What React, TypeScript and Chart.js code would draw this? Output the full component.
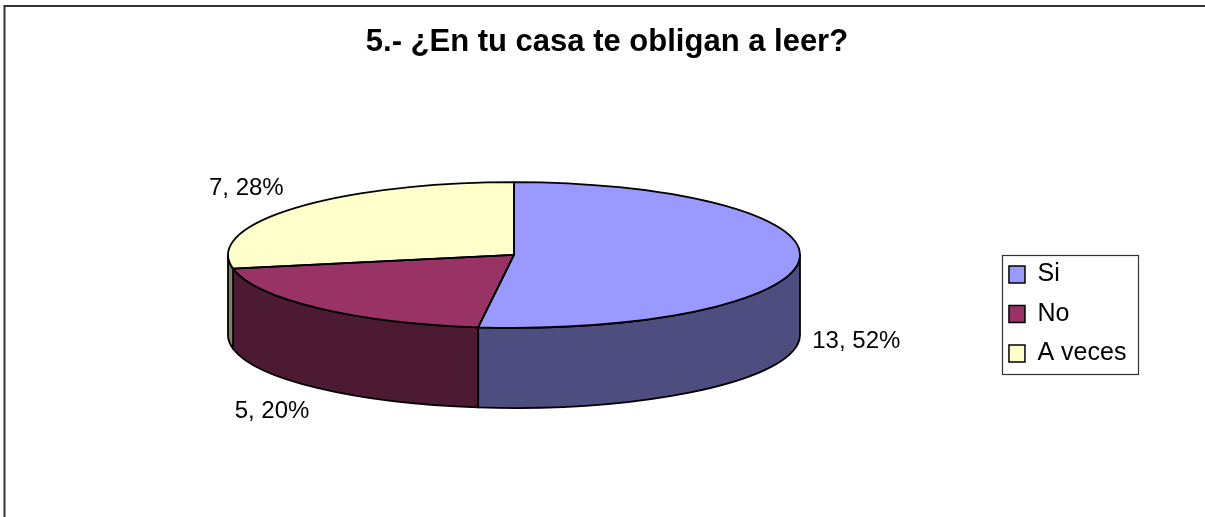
import React, { useEffect, useRef } from 'react';
import { Chart, registerables, layouts } from 'chart.js';

Chart.register(...registerables);

// ---- data ----
const TITLE = '5.- ¿En tu casa te obligan a leer?';
const CATEGORIES = ['Si', 'No', 'A veces'];
const VALUES = [13, 5, 7];
const TOP_COLORS = ['#9999FF', '#993366', '#FFFFCC'];

// ---- style constants ----
const FONT = '"Liberation Sans", Arial, Helvetica, sans-serif';
const TILT = 0.255; // vertical squash of the pie disc
const DEPTH = 0.28; // thickness of the disc relative to its radius
const PIE_RADIUS = 286;
const SPACER_WIDTH = 44;
const LABEL_FX = 1.045;
const LABEL_FY = 1.43;
const EDGE_WIDTH = 1.8;

function darken(hex: string, f: number) {
  const n = parseInt(hex.slice(1), 16);
  const r = Math.round(((n >> 16) & 255) * f);
  const g = Math.round(((n >> 8) & 255) * f);
  const b = Math.round((n & 255) * f);
  return `rgb(${r},${g},${b})`;
}

const framePlugin = {
  id: 'frame',
  beforeDraw(chart: any) {
    const { ctx, width, height } = chart;
    ctx.save();
    ctx.fillStyle = '#ffffff';
    ctx.fillRect(0, 0, width, height);
    ctx.strokeStyle = '#333333';
    ctx.lineWidth = 2;
    ctx.strokeRect(4.5, 6, width + 10, height + 10);
    ctx.restore();
  },
};

// empty layout box to the right of the legend
const spacerPlugin = {
  id: 'rightSpacer',
  beforeInit(chart: any) {
    const box: any = {
      position: 'right',
      weight: 3000,
      fullSize: false,
      options: { display: true, stackWeight: 1 },
      left: 0,
      top: 0,
      right: 0,
      bottom: 0,
      width: 0,
      height: 0,
      isHorizontal() {
        return false;
      },
      getPadding() {
        return { left: 0, right: 0, top: 0, bottom: 0 };
      },
      update(_maxWidth: number, maxHeight: number) {
        this.width = SPACER_WIDTH;
        this.height = maxHeight;
      },
      draw() {},
    };
    layouts.addBox(chart, box);
  },
};

function geometry(chart: any) {
  const arcs = chart.getDatasetMeta(0).data;
  if (!arcs || !arcs.length) return null;
  const a0 = arcs[0];
  const cx = a0.x;
  const rx = a0.outerRadius;
  const ry = rx * TILT;
  const depth = rx * DEPTH;
  const top = a0.y - depth / 2;
  return { arcs, cx, cy: a0.y, rx, ry, depth, top };
}

const pie3dPlugin = {
  id: 'pie3d',
  beforeDatasetsDraw(chart: any) {
    const g = geometry(chart);
    const ctx = chart.ctx;
    ctx.save();
    if (!g) return;
    const { arcs, cx, cy, rx, ry, depth, top } = g;
    // side walls (front half only)
    ctx.lineWidth = EDGE_WIDTH;
    ctx.strokeStyle = '#000';
    ctx.lineJoin = 'round';
    arcs.forEach((arc: any, i: number) => {
      const lo = Math.max(arc.startAngle, 0);
      const hi = Math.min(arc.endAngle, Math.PI);
      if (hi <= lo) return;
      ctx.beginPath();
      ctx.ellipse(cx, top, rx, ry, 0, lo, hi);
      ctx.lineTo(cx + rx * Math.cos(hi), top + depth + ry * Math.sin(hi));
      ctx.ellipse(cx, top + depth, rx, ry, 0, hi, lo, true);
      ctx.closePath();
      ctx.fillStyle = darken(TOP_COLORS[i], 0.5);
      ctx.fill();
      ctx.stroke();
    });
    // squash the library's disc into the top face
    ctx.translate(cx, top);
    ctx.scale(1, TILT);
    ctx.translate(-cx, -cy);
  },
  afterDatasetsDraw(chart: any) {
    const ctx = chart.ctx;
    ctx.restore();
    const g = geometry(chart);
    if (!g) return;
    const { arcs, cx, rx, ry, depth, top } = g;
    ctx.save();
    ctx.lineWidth = EDGE_WIDTH;
    ctx.strokeStyle = '#000';
    ctx.lineJoin = 'round';
    arcs.forEach((arc: any) => {
      const s = arc.startAngle;
      const e = arc.endAngle;
      ctx.beginPath();
      ctx.moveTo(cx, top);
      ctx.lineTo(cx + rx * Math.cos(s), top + ry * Math.sin(s));
      ctx.ellipse(cx, top, rx, ry, 0, s, e);
      ctx.closePath();
      ctx.stroke();
    });
    // data labels
    const total = VALUES.reduce((a, b) => a + b, 0);
    ctx.fillStyle = '#000';
    ctx.font = `24px ${FONT}`;
    ctx.textBaseline = 'middle';
    arcs.forEach((arc: any, i: number) => {
      const m = (arc.startAngle + arc.endAngle) / 2;
      const c = Math.cos(m);
      const sn = Math.sin(m);
      const x = cx + rx * LABEL_FX * c;
      const y = top + ry * LABEL_FY * sn + (sn > 0 ? depth : 0);
      ctx.textAlign = c >= 0 ? 'left' : 'right';
      const v = VALUES[i];
      ctx.fillText(`${v}, ${Math.round((v / total) * 100)}%`, x, y);
    });
    ctx.restore();
  },
};

const legendFramePlugin = {
  id: 'legendFrame',
  afterDraw(chart: any) {
    const hb = chart.legend && chart.legend.legendHitBoxes;
    if (!hb || !hb.length) return;
    let l = Infinity, t = Infinity, r = -Infinity, b = -Infinity;
    hb.forEach((h: any) => {
      l = Math.min(l, h.left);
      t = Math.min(t, h.top);
      r = Math.max(r, h.left + h.width);
      b = Math.max(b, h.top + h.height);
    });
    const ctx = chart.ctx;
    ctx.save();
    ctx.strokeStyle = '#333';
    ctx.lineWidth = 1.2;
    ctx.strokeRect(Math.round(l - 6.5) + 0.5, Math.round(t - 7.5) + 0.5, Math.round(r - l + 19), Math.round(b - t + 15));
    ctx.restore();
  },
};

export default function App() {
  const ref = useRef<HTMLCanvasElement | null>(null);
  useEffect(() => {
    if (!ref.current) return;
    Chart.defaults.font.family = FONT;
    const chart = new Chart(ref.current, {
      type: 'pie',
      data: {
        labels: CATEGORIES,
        datasets: [
          {
            data: VALUES,
            backgroundColor: TOP_COLORS,
            borderWidth: 0,
            radius: PIE_RADIUS,
            clip: false as any,
          } as any,
        ],
      },
      options: {
        animation: false,
        responsive: false,
        maintainAspectRatio: false,
        devicePixelRatio: 1,
        events: [],
        layout: { padding: { left: 33.5, right: 24.6, top: 0, bottom: 0 } },
        plugins: {
          tooltip: { enabled: false },
          title: {
            display: true,
            text: TITLE,
            color: '#000',
            font: { family: FONT, size: 31, weight: 'bold' },
            padding: { top: 23.4, bottom: 12.4 },
          },
          legend: {
            display: true,
            position: 'right',
            fullSize: false,
            align: 'center',
            title: { display: true, text: '', font: { size: 2 }, padding: { top: 35.6, bottom: 0 } },
            labels: {
              color: '#000',
              font: { family: FONT, size: 25 },
              boxWidth: 16,
              boxHeight: 17,
              padding: 14.5,
              generateLabels: () =>
                CATEGORIES.map((c, i) => ({
                  text: c,
                  fillStyle: TOP_COLORS[i],
                  strokeStyle: '#000',
                  fontColor: '#000',
                  lineWidth: 1.5,
                  hidden: false,
                  index: i,
                })),
            },
          },
        },
      } as any,
      plugins: [framePlugin, spacerPlugin, pie3dPlugin, legendFramePlugin],
    });
    return () => chart.destroy();
  }, []);
  return (
    <div style={{ position: 'absolute', left: 0, top: 0, width: 1205, height: 517 }}>
      <canvas ref={ref} width={1205} height={517} style={{ display: 'block' }} />
    </div>
  );
}
